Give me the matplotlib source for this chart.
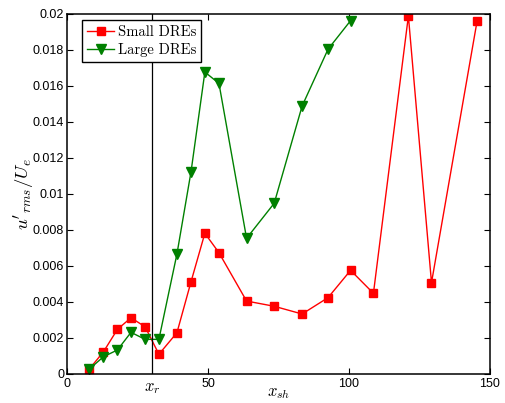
import matplotlib.pyplot as plt

# x_sh positions (shared by both series)
x_sh = [7.8, 12.9, 17.9, 22.7, 27.7, 32.6, 39.0, 44.0, 48.9, 53.9,
        63.7, 73.5, 83.4, 92.6, 100.6, 108.7, 121.1, 129.3, 145.5]

small_dres = [0.00023, 0.0012, 0.00246, 0.0031, 0.0026, 0.00107, 0.00227,
              0.00511, 0.0078, 0.00672, 0.00403, 0.00374, 0.00331, 0.00422,
              0.00574, 0.00446, 0.01989, 0.00505, 0.01963]

large_x = x_sh[:15]
large_dres = [0.00023, 0.00093, 0.00131, 0.00229, 0.0019, 0.0019, 0.00665,
              0.01123, 0.01677, 0.01614, 0.00752, 0.00947, 0.01488, 0.01804,
              0.01963]

x_r = 30.2
x_ticks = [0, 50, 100, 150]
y_ticks = [0, 0.002, 0.004, 0.006, 0.008, 0.01, 0.012, 0.014, 0.016, 0.018, 0.02]

plt.rcParams['mathtext.fontset'] = 'cm'
plt.rcParams['font.family'] = ['Liberation Sans', 'DejaVu Sans']

fig = plt.figure(figsize=(5.05, 4.03), dpi=100)
ax = fig.add_axes([0.1327, 0.0732, 0.8373, 0.8921])

ax.plot(x_sh, small_dres, color='#ff0000', marker='s', markersize=6,
        linewidth=1, label='Small DREs')
ax.plot(large_x, large_dres, color='#008000', marker='v', markersize=7.5,
        linewidth=1, label='Large DREs')
ax.axvline(x_r, color='black', linewidth=0.9)

ax.set_xlim(0, 150)
ax.set_ylim(0, 0.02)
ax.set_xticks(x_ticks)
ax.set_yticks(y_ticks)
ax.set_yticklabels(['%g' % v for v in y_ticks])
ax.tick_params(direction='in', top=True, right=True, labelsize=9, length=4)
ax.tick_params(axis='y', pad=2)
for s in ax.spines.values():
    s.set_linewidth(1.1)

ax.text(x_r, -0.0004, '$x_r$', ha='center', va='top', fontsize=12,
        transform=ax.transData)
ax.set_xlabel('$x_{sh}$', fontsize=12, labelpad=-3)
ax.set_ylabel("$u'_{rms}/U_e$", fontsize=13.5, labelpad=-2)

leg = ax.legend(loc='upper left', prop={'family': 'cmr10', 'size': 10.5},
                fancybox=False, edgecolor='black', framealpha=1,
                bbox_to_anchor=(0.036, 0.982), borderaxespad=0,
                handlelength=1.85, handletextpad=0.25, borderpad=0.35,
                labelspacing=0.25)
leg.get_frame().set_linewidth(1.0)

fig.savefig('out.png', dpi=100)
